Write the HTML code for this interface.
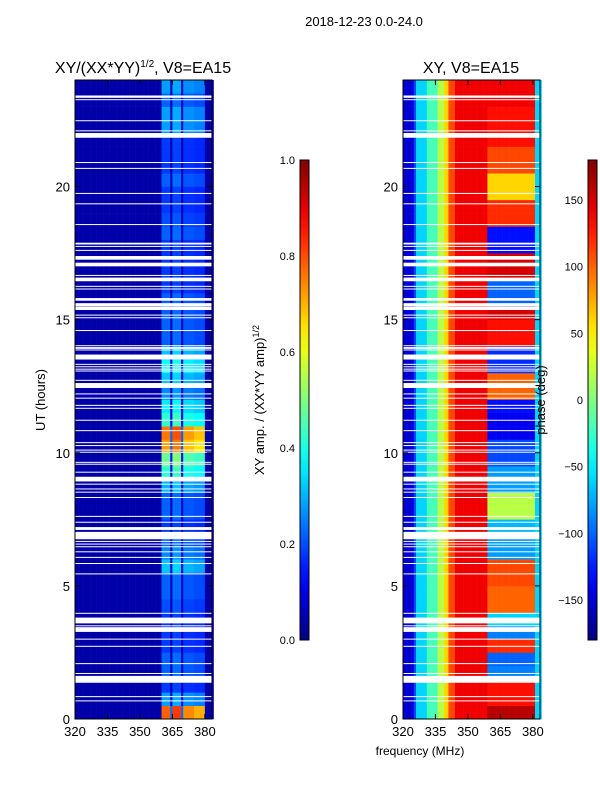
<!DOCTYPE html>
<html><head><meta charset="utf-8"><style>
html,body{margin:0;padding:0;background:#fff;}
svg{display:block;font-family:"Liberation Sans",sans-serif;}
</style></head><body>
<svg id="fig" width="600" height="800" viewBox="0 0 600 800" xmlns="http://www.w3.org/2000/svg">
<rect x="0" y="0" width="600" height="800" fill="#fff"/>
<text x="364" y="26" font-size="13" text-anchor="middle">2018-12-23 0.0-24.0</text>
<text x="143" y="73" font-size="16" text-anchor="middle">XY/(XX*YY)<tspan font-size="10" dy="-6">1/2</tspan><tspan dy="6">, V8=EA15</tspan></text>
<text x="471" y="73" font-size="16" text-anchor="middle">XY, V8=EA15</text>
<g id="left"></g>
<g id="right"></g>
<g id="axes"></g>
<defs><linearGradient id="jetg" x1="0" y1="1" x2="0" y2="0"></linearGradient></defs>
<rect x="300" y="160" width="9" height="480" fill="url(#jetg)" stroke="#000" stroke-width="1"/>
<rect x="588" y="160" width="9" height="480" fill="url(#jetg)" stroke="#000" stroke-width="1"/>
<text transform="translate(45,400) rotate(-90)" font-size="13" text-anchor="middle">UT (hours)</text>
<text transform="translate(264,400) rotate(-90)" font-size="13" text-anchor="middle">XY amp. / (XX*YY amp)<tspan font-size="9" dy="-5">1/2</tspan></text>
<text transform="translate(545,400) rotate(-90)" font-size="13" text-anchor="middle">phase (deg)</text>
<text x="420" y="755" font-size="12" text-anchor="middle">frequency (MHz)</text>
</svg>
<script>
const NS="http://www.w3.org/2000/svg";
const hourBins=[0,0.5,1,1.5,2,2.5,3,3.5,4,4.5,5,5.5,6,6.5,7,7.5,8,8.5,9,9.5,10,10.5,11,11.5,12,12.5,13,13.5,14,14.5,15,15.5,16,16.5,17,17.5,18,18.5,19,19.5,20,20.5,21,21.5,22,22.5,23,23.5];
const ampByHalfHour=[0.78,0.28,0.18,0.22,0.22,0.18,0.18,0.18,0.2,0.22,0.22,0.32,0.26,0.22,0.18,0.22,0.22,0.3,0.42,0.48,0.72,0.76,0.42,0.36,0.26,0.32,0.38,0.32,0.22,0.22,0.22,0.22,0.18,0.18,0.18,0.18,0.22,0.2,0.18,0.18,0.22,0.18,0.18,0.18,0.28,0.28,0.22,0.28];
const windows=[[360,364],[365,369],[370,374.5],[375,379.5]];
const windowGain=[1.0,1.05,0.95,0.9];
const ampBackground=0.04;
const phaseProfileFreq=[320,325,326,331,336,339,341,344,359];
const phaseProfileVal=[-150,-110,-60,-20,20,60,110,140,140];
const phaseRightByHalfHour=[160,130,130,-90,-100,120,-90,-60,100,100,110,110,-80,-80,-70,20,20,-80,-80,-110,-110,-140,-140,-130,100,100,-120,-120,130,130,150,-100,-100,150,150,-130,-130,120,120,60,60,110,110,130,130,130,140,140];
const gapsHours=[[23.35,23.40],[23.26,23.26],[22.47,22.47],[22.09,22.09],[21.85,21.99],[20.90,20.90],[20.68,20.68],[19.74,19.74],[19.35,19.35],[18.57,18.57],[17.84,17.87],[17.75,17.75],[17.60,17.60],[17.27,17.37],[17.02,17.12],[16.66,16.66],[16.46,16.56],[16.25,16.25],[16.15,16.15],[15.73,15.79],[15.52,15.60],[15.38,15.47],[15.17,15.17],[15.07,15.07],[14.59,14.59],[14.02,14.02],[13.92,13.95],[13.86,13.86],[13.52,13.67],[13.32,13.32],[13.23,13.23],[13.14,13.14],[13.07,13.07],[12.72,12.72],[12.45,12.60],[12.21,12.21],[12.05,12.05],[11.78,11.78],[11.67,11.67],[11.22,11.22],[10.83,10.83],[10.38,10.38],[10.27,10.27],[10.10,10.10],[10.02,10.02],[9.64,9.64],[9.57,9.57],[9.27,9.27],[8.94,9.08],[8.82,8.82],[8.64,8.64],[8.52,8.52],[8.32,8.32],[7.61,7.61],[7.39,7.39],[7.12,7.19],[6.77,7.01],[6.67,6.67],[6.57,6.57],[6.47,6.47],[6.28,6.28],[6.07,6.07],[5.84,5.84],[5.45,5.45],[3.97,3.97],[3.61,3.79],[3.50,3.50],[3.29,3.43],[3.00,3.00],[2.73,2.73],[2.08,2.08],[1.71,1.71],[1.38,1.60],[0.84,0.84],[0.68,0.68]];
const xTicks=[320,335,350,365,380];
const yTicks=[0,5,10,15,20];
const ampTicks=["0.0","0.2","0.4","0.6","0.8","1.0"];
const phaseTicks=[-150,-100,-50,0,50,100,150];

const F0=320,F1=383.3,H0=0,H1=24,TOP=80,BOT=719;
function yS(h){return BOT-(h-H0)/(H1-H0)*(BOT-TOP);}
function xS(f,x0){return x0+(f-F0)/(F1-F0)*137;}
function clamp(v){return Math.max(0,Math.min(1,v));}
function jet(v){v=clamp(v);const r=clamp(1.5-Math.abs(4*v-3)),g=clamp(1.5-Math.abs(4*v-2)),b=clamp(1.5-Math.abs(4*v-1));return `rgb(${Math.round(r*255)},${Math.round(g*255)},${Math.round(b*255)})`;}
function mk(tag,attrs,parent){const e=document.createElementNS(NS,tag);for(const k in attrs)e.setAttribute(k,attrs[k]);parent.appendChild(e);return e;}
function interpProfile(f){for(let i=0;i<phaseProfileFreq.length-1;i++){if(f<phaseProfileFreq[i+1])return phaseProfileVal[i];}return phaseProfileVal[phaseProfileVal.length-1];}

const L=document.getElementById('left'),R=document.getElementById('right');
const chanW=1.0;
for(let ti=0;ti<hourBins.length;ti++){
  const h=hourBins[ti],y1=yS(h+0.5),y2=yS(h);
  for(let f=F0;f<F1;f+=chanW){
    const fc=f+chanW/2;
    let a=ampBackground;
    windows.forEach((w,wi)=>{ if(fc>=w[0]&&fc<=w[1]) a=ampByHalfHour[ti]*windowGain[wi]; });
    if(fc>364&&fc<365||fc>369&&fc<370) a=Math.max(ampBackground,ampByHalfHour[ti]*0.3);
    const r=mk('rect',{x:xS(f,75).toFixed(2),y:y1.toFixed(2),width:(137/(F1-F0)*chanW+0.3).toFixed(2),height:(y2-y1+0.3).toFixed(2),fill:jet(a)},L);
    
    
    let p=fc<359?interpProfile(fc):phaseRightByHalfHour[ti];
    if(fc>381) p=-60;
    const r2=mk('rect',{x:xS(f,403).toFixed(2),y:y1.toFixed(2),width:(137/(F1-F0)*chanW+0.3).toFixed(2),height:(y2-y1+0.3).toFixed(2),fill:jet((p+180)/360)},R);
    
    
  }
}
[[75,L],[403,R]].forEach(([x0,g])=>{
  gapsHours.forEach(gp=>{
    const ya=yS(gp[1])-0.5,yb=yS(gp[0])+0.5;
    const r=mk('rect',{x:x0,y:ya.toFixed(2),width:137,height:(yb-ya).toFixed(2),fill:'#fff'},g);
    
    
  });
});
const A=document.getElementById('axes');
[75,403].forEach((x0,pi)=>{
  const fr=mk('rect',{x:x0,y:TOP,width:137,height:BOT-TOP,fill:'none',stroke:'#000','stroke-width':1},A);
  
  
  xTicks.forEach(t=>{
    const x=xS(t,x0);
    mk('line',{x1:x,y1:BOT,x2:x,y2:BOT-5,stroke:'#000'},A);
    mk('line',{x1:x,y1:TOP,x2:x,y2:TOP+5,stroke:'#000'},A);
    const tx=mk('text',{x:x,y:BOT+17,'font-size':13,'text-anchor':'middle'},A);
    tx.textContent=t;
    
    
  });
  yTicks.forEach(t=>{
    const y=yS(t);
    mk('line',{x1:x0,y1:y,x2:x0+5,y2:y,stroke:'#000'},A);
    mk('line',{x1:x0+137,y1:y,x2:x0+132,y2:y,stroke:'#000'},A);
    const tx=mk('text',{x:x0-5,y:y+5,'font-size':13,'text-anchor':'end'},A);
    tx.textContent=t;
    
    
  });
});
ampTicks.forEach((t,i)=>{
  const y=640-parseFloat(t)*480;
  mk('line',{x1:300,y1:y,x2:304,y2:y,stroke:'#000'},A);
  const tx=mk('text',{x:295,y:y+4,'font-size':11,'text-anchor':'end'},A);
  tx.textContent=t;
  
  
});
phaseTicks.forEach(t=>{
  const y=640-(t+180)/360*480;
  mk('line',{x1:588,y1:y,x2:592,y2:y,stroke:'#000'},A);
  const tx=mk('text',{x:583,y:y+4,'font-size':11,'text-anchor':'end'},A);
  tx.textContent=t<0?'\u2212'+(-t):t;
  
  
});
const grad=document.getElementById('jetg');
for(let i=0;i<=20;i++){mk('stop',{offset:(i/20),'stop-color':jet(i/20)},grad);}
</script>
</body></html>
